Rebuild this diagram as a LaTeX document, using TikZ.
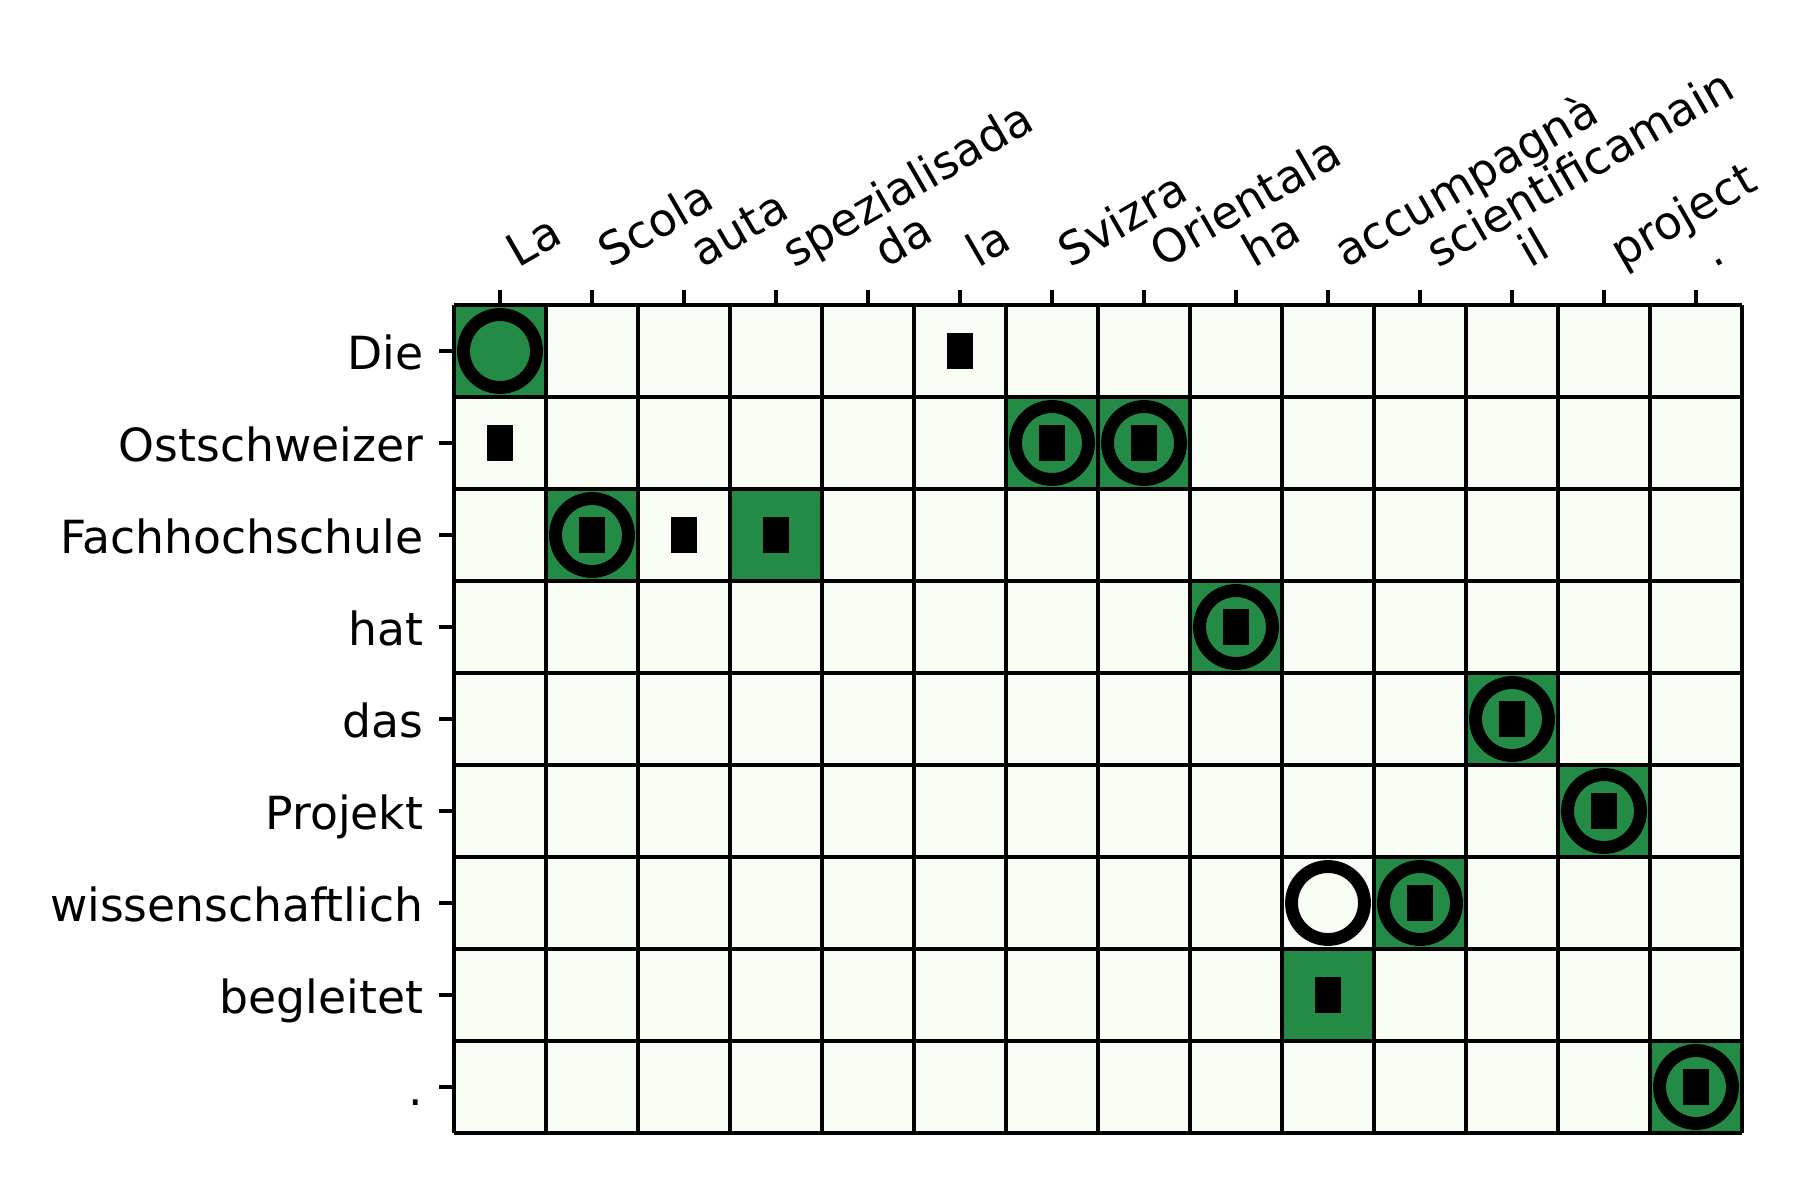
\documentclass[tikz,border=0pt]{standalone}
\usepackage{fontspec}
\setmainfont{DejaVu Sans}
\usepackage{tikz}
\definecolor{cellgreen}{HTML}{238B45}
\definecolor{celllight}{HTML}{F7FCF5}
\def\greencell(#1,#2){\fill[cellgreen] (#1,-#2) rectangle ++(1,-1);}
\def\ring(#1,#2){\draw[line width=3.1pt] (#1+0.5,-#2-0.5) circle (0.3965);}
\def\markbar(#1,#2){\fill[black] (#1+0.359,-#2-0.304) rectangle (#1+0.641,-#2-0.696);}

\begin{document}
\begin{tikzpicture}[x=0.77893cm, y=0.77893cm, font=\fontsize{11pt}{13pt}\selectfont]
		%%%%% START %%%%%
		\useasboundingbox (-4.9348, 3.3152) rectangle (14.6304, -9.7283);
		
		\fill[celllight] (0, 0) rectangle (14, -9);
		
		\greencell(0,0);
		\greencell(6,1);
		\greencell(7,1);
		\greencell(1,2);
		\greencell(3,2);
		\greencell(8,3);
		\greencell(11,4);
		\greencell(12,5);
		\greencell(10,6);
		\greencell(9,7);
		\greencell(13,8);
		
		\foreach \c in {0,...,14}
			\draw[line width=1pt] (\c, 0) -- (\c, -9);
		\foreach \r in {0,...,9}
			\draw[line width=1pt] (0, -\r) -- (14, -\r);
		
		\ring(0,0);
		\ring(6,1);
		\ring(7,1);
		\ring(1,2);
		\ring(8,3);
		\ring(11,4);
		\ring(12,5);
		\ring(9,6);
		\ring(10,6);
		\ring(13,8);
		
		\markbar(5,0);
		\markbar(0,1);
		\markbar(6,1);
		\markbar(7,1);
		\markbar(1,2);
		\markbar(2,2);
		\markbar(3,2);
		\markbar(8,3);
		\markbar(11,4);
		\markbar(12,5);
		\markbar(10,6);
		\markbar(9,7);
		\markbar(13,8);
		
		\foreach \w [count=\i from 0] in {La, Scola, auta, spezialisada, da, la, Svizra, Orientala, ha, accumpagnà, scientificamain, il, project, .}
		{
			\draw[line width=0.8pt] (\i+0.5, 0) -- (\i+0.5, 0.163);
			\node[rotate=30, anchor=base west, inner sep=0] (col\i) at (\i+0.69, 0.395) {\w};
		}
		
		\foreach \w [count=\i from 0] in {Die, Ostschweizer, Fachhochschule, hat, das, Projekt, wissenschaftlich, begleitet, .}
		{
			\draw[line width=0.8pt] (0, -\i-0.5) -- (-0.163, -\i-0.5);
			\node[anchor=base east, inner sep=0] (row\i) at (-0.326, -\i-0.7) {\w};
		}
		%%%%% END %%%%%
	\end{tikzpicture}
\end{document}
